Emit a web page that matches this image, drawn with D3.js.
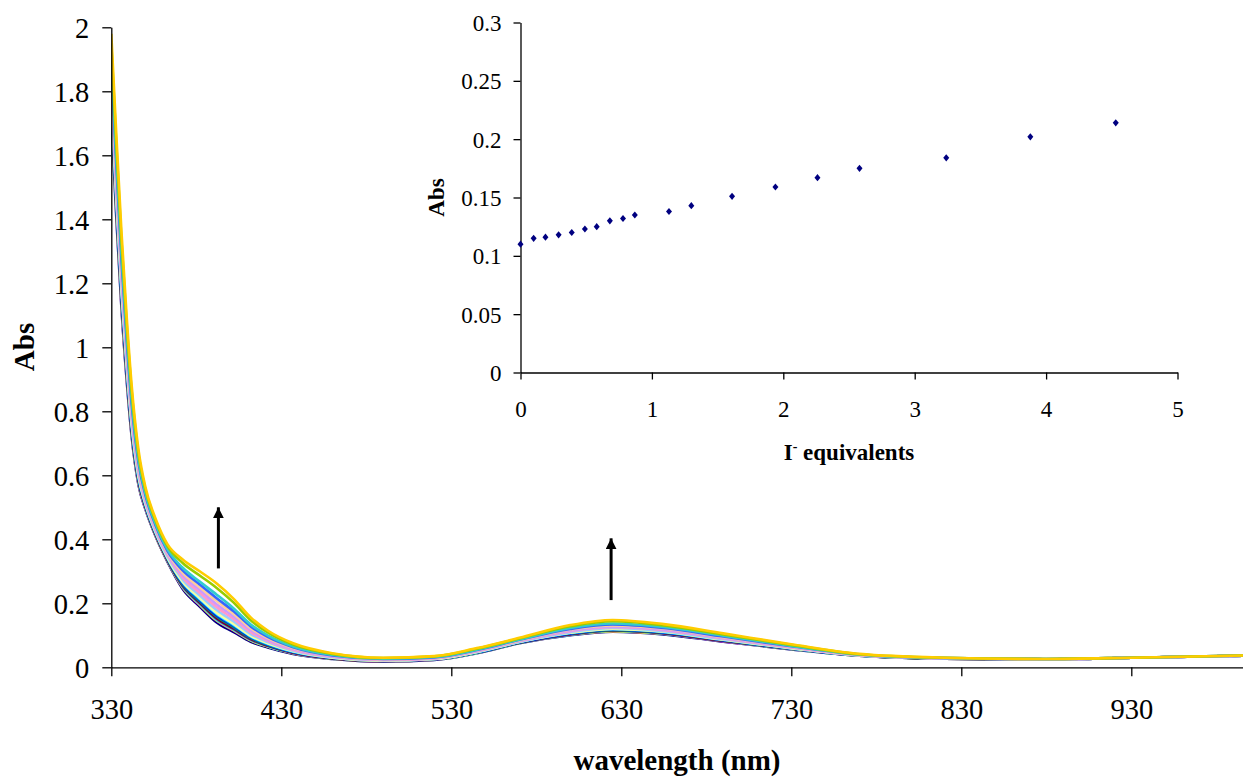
<!DOCTYPE html>
<html>
<head>
<meta charset="utf-8">
<script src="https://cdn.jsdelivr.net/npm/d3@7"></script>
<style>
  html, body { margin: 0; padding: 0; background: #fff; }
  svg { display: block; }
  text { font-family: "Liberation Serif", "Times New Roman", serif; fill: #000; }
</style>
</head>
<body>
<svg id="chart" width="1243" height="778" font-family="Liberation Serif"></svg>
<script>
// ---------------- data ----------------
const wavelengths = [330, 333, 336, 339, 342, 346, 350, 356, 363, 372, 382, 392, 402, 412, 422, 437, 460, 490, 520, 545, 570, 600, 625, 655, 690, 730, 770, 820, 880, 930, 996];

const spectra = [
  [1.720, 1.400, 1.120, 0.900, 0.720, 0.570, 0.495, 0.410, 0.330, 0.245, 0.190, 0.140, 0.110, 0.080, 0.062, 0.042, 0.026, 0.018, 0.023, 0.044, 0.075, 0.100, 0.111, 0.103, 0.080, 0.056, 0.036, 0.027, 0.025, 0.030, 0.036],
  [1.732, 1.412, 1.131, 0.910, 0.728, 0.575, 0.498, 0.413, 0.333, 0.249, 0.195, 0.146, 0.115, 0.084, 0.065, 0.044, 0.027, 0.019, 0.024, 0.045, 0.076, 0.102, 0.113, 0.105, 0.081, 0.057, 0.036, 0.027, 0.025, 0.030, 0.036],
  [1.735, 1.415, 1.134, 0.912, 0.729, 0.576, 0.499, 0.413, 0.333, 0.250, 0.196, 0.147, 0.116, 0.084, 0.065, 0.044, 0.027, 0.019, 0.024, 0.045, 0.076, 0.102, 0.113, 0.105, 0.082, 0.057, 0.036, 0.027, 0.025, 0.030, 0.036],
  [1.740, 1.420, 1.138, 0.915, 0.732, 0.578, 0.500, 0.414, 0.334, 0.252, 0.198, 0.149, 0.118, 0.086, 0.066, 0.045, 0.027, 0.019, 0.024, 0.045, 0.076, 0.102, 0.114, 0.105, 0.082, 0.057, 0.036, 0.027, 0.025, 0.030, 0.036],
  [1.745, 1.425, 1.143, 0.919, 0.735, 0.581, 0.502, 0.415, 0.335, 0.254, 0.201, 0.152, 0.120, 0.087, 0.067, 0.045, 0.028, 0.019, 0.024, 0.046, 0.077, 0.103, 0.115, 0.106, 0.082, 0.058, 0.037, 0.027, 0.025, 0.030, 0.036],
  [1.753, 1.433, 1.150, 0.925, 0.740, 0.584, 0.504, 0.417, 0.337, 0.257, 0.204, 0.155, 0.123, 0.090, 0.069, 0.046, 0.028, 0.020, 0.025, 0.046, 0.077, 0.104, 0.116, 0.107, 0.083, 0.058, 0.037, 0.027, 0.025, 0.030, 0.036],
  [1.757, 1.437, 1.155, 0.929, 0.743, 0.586, 0.505, 0.418, 0.338, 0.258, 0.206, 0.158, 0.125, 0.091, 0.070, 0.047, 0.029, 0.020, 0.025, 0.046, 0.077, 0.105, 0.116, 0.108, 0.084, 0.058, 0.037, 0.027, 0.025, 0.030, 0.036],
  [1.770, 1.450, 1.166, 0.938, 0.751, 0.591, 0.508, 0.421, 0.341, 0.263, 0.211, 0.163, 0.130, 0.095, 0.072, 0.048, 0.029, 0.020, 0.025, 0.047, 0.078, 0.106, 0.118, 0.109, 0.085, 0.059, 0.037, 0.028, 0.025, 0.030, 0.036],
  [1.775, 1.455, 1.171, 0.942, 0.754, 0.593, 0.510, 0.422, 0.342, 0.265, 0.213, 0.166, 0.132, 0.096, 0.073, 0.049, 0.030, 0.021, 0.026, 0.047, 0.079, 0.107, 0.119, 0.110, 0.086, 0.059, 0.037, 0.028, 0.025, 0.030, 0.036],
  [1.782, 1.462, 1.178, 0.948, 0.758, 0.596, 0.512, 0.423, 0.343, 0.267, 0.216, 0.169, 0.135, 0.098, 0.075, 0.050, 0.030, 0.021, 0.026, 0.048, 0.079, 0.108, 0.120, 0.111, 0.086, 0.060, 0.037, 0.028, 0.025, 0.030, 0.036],
  [1.790, 1.470, 1.185, 0.954, 0.763, 0.600, 0.514, 0.425, 0.345, 0.270, 0.220, 0.173, 0.138, 0.100, 0.076, 0.051, 0.031, 0.021, 0.026, 0.048, 0.080, 0.109, 0.121, 0.112, 0.087, 0.060, 0.038, 0.028, 0.025, 0.030, 0.036],
  [1.802, 1.482, 1.196, 0.963, 0.771, 0.605, 0.517, 0.427, 0.347, 0.274, 0.225, 0.179, 0.143, 0.104, 0.079, 0.052, 0.032, 0.022, 0.027, 0.049, 0.080, 0.110, 0.123, 0.113, 0.088, 0.061, 0.038, 0.028, 0.025, 0.030, 0.036],
  [1.822, 1.502, 1.215, 0.979, 0.783, 0.613, 0.523, 0.432, 0.352, 0.281, 0.233, 0.188, 0.151, 0.110, 0.083, 0.055, 0.033, 0.023, 0.028, 0.050, 0.082, 0.113, 0.126, 0.116, 0.090, 0.062, 0.038, 0.028, 0.025, 0.030, 0.036],
  [1.842, 1.522, 1.233, 0.994, 0.795, 0.622, 0.528, 0.436, 0.356, 0.288, 0.242, 0.197, 0.159, 0.116, 0.087, 0.058, 0.034, 0.024, 0.029, 0.052, 0.083, 0.115, 0.128, 0.118, 0.092, 0.064, 0.039, 0.028, 0.025, 0.030, 0.036],
  [1.862, 1.542, 1.252, 1.010, 0.808, 0.630, 0.533, 0.440, 0.360, 0.295, 0.250, 0.207, 0.167, 0.122, 0.091, 0.060, 0.036, 0.025, 0.030, 0.053, 0.084, 0.118, 0.131, 0.121, 0.094, 0.065, 0.039, 0.029, 0.026, 0.030, 0.037],
  [1.883, 1.563, 1.270, 1.025, 0.820, 0.639, 0.539, 0.444, 0.364, 0.303, 0.259, 0.216, 0.175, 0.128, 0.095, 0.063, 0.037, 0.026, 0.031, 0.054, 0.086, 0.120, 0.134, 0.123, 0.096, 0.066, 0.040, 0.029, 0.026, 0.030, 0.037],
  [1.905, 1.585, 1.291, 1.042, 0.834, 0.648, 0.545, 0.449, 0.369, 0.311, 0.268, 0.227, 0.184, 0.134, 0.100, 0.065, 0.039, 0.027, 0.032, 0.055, 0.087, 0.123, 0.137, 0.126, 0.099, 0.067, 0.040, 0.029, 0.026, 0.030, 0.037],
  [1.950, 1.630, 1.332, 1.077, 0.862, 0.667, 0.557, 0.459, 0.379, 0.326, 0.287, 0.248, 0.202, 0.147, 0.109, 0.071, 0.042, 0.029, 0.034, 0.058, 0.090, 0.128, 0.144, 0.131, 0.103, 0.070, 0.041, 0.030, 0.026, 0.030, 0.037],
  [1.980, 1.660, 1.360, 1.100, 0.880, 0.680, 0.565, 0.465, 0.385, 0.337, 0.300, 0.262, 0.214, 0.156, 0.115, 0.075, 0.044, 0.030, 0.035, 0.060, 0.092, 0.132, 0.148, 0.135, 0.106, 0.072, 0.042, 0.030, 0.026, 0.030, 0.037]
];

const seriesColors = ["#000080", "#FF00FF", "#FFFF00", "#00FFFF", "#800080", "#800000", "#008080", "#0000FF",
  "#00CCFF", "#CCFFCC", "#FFFF99", "#99CCFF", "#FF99CC", "#CC99FF", "#FFCC99", "#3366FF", "#33CCCC", "#99CC00", "#FFCC00"];

const mainXTicks = [330, 430, 530, 630, 730, 830, 930];
const mainYTicks = [0, 0.2, 0.4, 0.6, 0.8, 1, 1.2, 1.4, 1.6, 1.8, 2];

// arrows (wavelength, from Abs, to Abs)
const arrowWavelengths = [393, 624];
const arrowFrom = [0.309, 0.21];
const arrowTo = [0.5, 0.403];

// inset
const equivalents = [0, 0.10, 0.19, 0.29, 0.39, 0.49, 0.58, 0.68, 0.78, 0.87, 1.13, 1.30, 1.61, 1.94, 2.26, 2.58, 3.24, 3.88, 4.53];
const insetAbs = [0.110, 0.115, 0.116, 0.118, 0.120, 0.123, 0.125, 0.130, 0.132, 0.135, 0.138, 0.143, 0.151, 0.159, 0.167, 0.175, 0.184, 0.202, 0.214];
const insetXTicks = [0, 1, 2, 3, 4, 5];
const insetYTicks = [0, 0.05, 0.1, 0.15, 0.2, 0.25, 0.3];

// ---------------- drawing ----------------
const SERIF = "Liberation Serif";
const svg = d3.select("#chart");
svg.append("rect").attr("width", 1243).attr("height", 778).attr("fill", "#fff");

const x = d3.scaleLinear().domain([330, 996]).range([111.3, 1243.5]);
const y = d3.scaleLinear().domain([0, 2]).range([667.3, 27.3]);

svg.append("clipPath").attr("id", "plotClip")
  .append("rect").attr("x", 111.3).attr("y", 20).attr("width", 1243 - 111.3).attr("height", 660);

const line = d3.line()
  .x((d, i) => x(wavelengths[i]))
  .y(d => y(d))
  .curve(d3.curveMonotoneX);

const linesG = svg.append("g").attr("clip-path", "url(#plotClip)");
spectra.forEach((s, k) => {
  linesG.append("path")
    .attr("d", line(s))
    .attr("fill", "none")
    .attr("stroke", seriesColors[k])
    .attr("stroke-width", 2.6)
    .attr("stroke-linejoin", "round");
});

function styleAxis(g, size) {
  g.attr("font-family", SERIF).attr("font-size", size);
  g.select(".domain").attr("stroke", "#000").attr("stroke-width", 1.3);
  g.selectAll(".tick line").attr("stroke", "#000").attr("stroke-width", 1.3);
  g.selectAll(".tick text").attr("font-family", SERIF).attr("font-size", size)
    .style("font-family", SERIF).style("font-size", size + "px");
}

// main axes
const yAxis = d3.axisLeft(y).tickValues(mainYTicks).tickSize(9).tickSizeOuter(0)
  .tickFormat(d => String(+d.toFixed(1)));
const gy = svg.append("g").attr("transform", "translate(111.3,0)").call(yAxis);
styleAxis(gy, 28.5);
gy.selectAll(".tick text").attr("x", -22).attr("dy", "0.35em");

const xAxis = d3.axisBottom(x).tickValues(mainXTicks).tickSize(9).tickSizeOuter(0).tickFormat(d3.format("d"));
const gx = svg.append("g").attr("transform", "translate(0,667.3)").call(xAxis);
styleAxis(gx, 28.5);
gx.selectAll(".tick text").attr("y", 52).attr("dy", 0);

svg.append("text")
  .attr("transform", "translate(34,347) rotate(-90)")
  .attr("text-anchor", "middle")
  .attr("font-family", SERIF)
  .style("font-weight", "bold").style("font-size", "29px")
  .text("Abs");

svg.append("text")
  .attr("x", 677).attr("y", 770)
  .attr("text-anchor", "middle")
  .attr("font-family", SERIF)
  .style("font-weight", "bold").style("font-size", "29px")
  .text("wavelength (nm)");

// arrows
svg.append("defs").append("marker")
  .attr("id", "arrowHead").attr("viewBox", "0 0 10 10")
  .attr("refX", 10).attr("refY", 5)
  .attr("markerWidth", 11).attr("markerHeight", 11)
  .attr("markerUnits", "userSpaceOnUse")
  .attr("orient", "auto")
  .append("path").attr("d", "M0,0 L10,5 L0,10 Z").attr("fill", "#000");

arrowWavelengths.forEach((w, i) => {
  svg.append("line")
    .attr("x1", x(w)).attr("x2", x(w))
    .attr("y1", y(arrowFrom[i])).attr("y2", y(arrowTo[i]))
    .attr("stroke", "#000").attr("stroke-width", 3)
    .attr("marker-end", "url(#arrowHead)");
});

// ---------------- inset ----------------
const ix = d3.scaleLinear().domain([0, 5]).range([520.5, 1177.5]);
const iy = d3.scaleLinear().domain([0, 0.3]).range([372.5, 22.5]);

const iyAxis = d3.axisLeft(iy).tickValues(insetYTicks).tickSize(7).tickSizeOuter(0)
  .tickFormat(d => String(+d.toFixed(2)));
const giy = svg.append("g").attr("transform", "translate(520.5,0)").call(iyAxis);
styleAxis(giy, 23);
giy.selectAll(".tick text").attr("x", -19).attr("dy", "0.35em");

const ixAxis = d3.axisBottom(ix).tickValues(insetXTicks).tickSize(7).tickSizeOuter(0).tickFormat(d3.format("d"));
const gix = svg.append("g").attr("transform", "translate(0,372.5)").call(ixAxis);
styleAxis(gix, 23);
gix.selectAll(".tick text").attr("y", 44).attr("dy", 0);

svg.append("g").selectAll("path.pt")
  .data(equivalents)
  .join("path")
  .attr("class", "pt")
  .attr("transform", (d, i) => `translate(${ix(d)},${iy(insetAbs[i])})`)
  .attr("d", "M0,-3.6 L3,0 L0,3.6 L-3,0 Z")
  .attr("fill", "#000080");

svg.append("text")
  .attr("transform", "translate(444,197.5) rotate(-90)")
  .attr("text-anchor", "middle")
  .attr("font-family", SERIF)
  .style("font-weight", "bold").style("font-size", "23px")
  .text("Abs");

const ixt = svg.append("text")
  .attr("x", 849).attr("y", 460)
  .attr("text-anchor", "middle")
  .attr("font-family", SERIF)
  .style("font-weight", "bold").style("font-size", "23px");
ixt.append("tspan").text("I");
ixt.append("tspan").attr("dy", -9).style("font-size", "14px").text("-");
ixt.append("tspan").attr("dy", 9).text(" equivalents");
</script>
</body>
</html>
